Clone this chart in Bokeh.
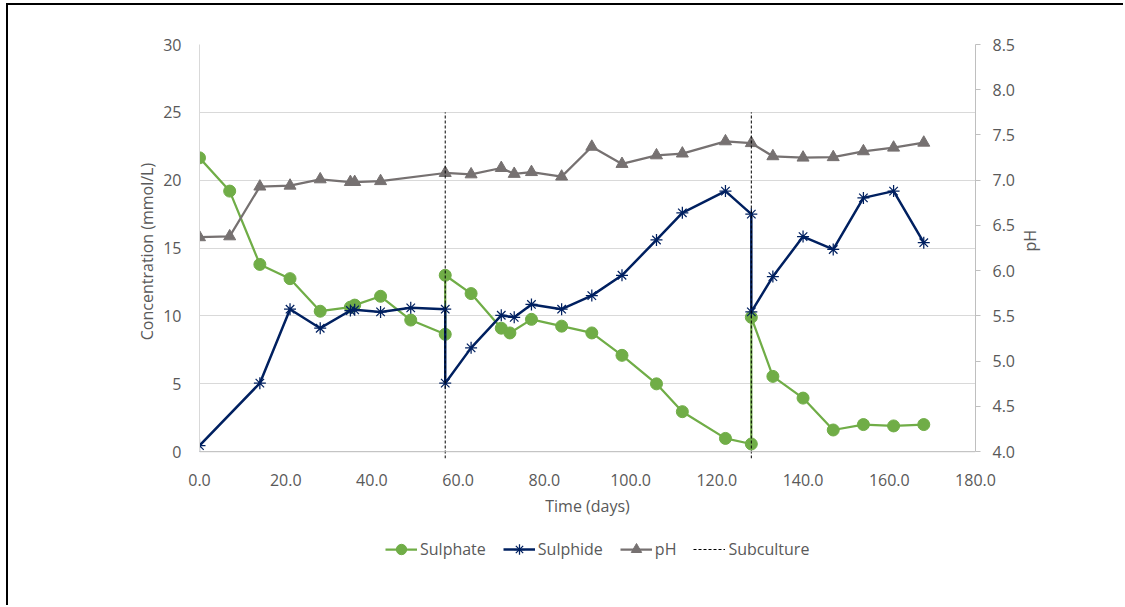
import math

from bokeh.plotting import figure
from bokeh.layouts import column
from bokeh.models import (Range1d, LinearAxis, SingleIntervalTicker, NumeralTickFormatter,
                          Legend, LegendItem, Span)
from bokeh.embed import file_html
from bokeh.resources import INLINE

# ---- measurements -------------------------------------------------------
days_sulphate = [0, 7, 14, 21, 28, 35, 36, 42, 49, 57, 57, 63, 70, 72, 77, 84, 91, 98,
                 106, 112, 122, 128, 128, 133, 140, 147, 154, 161, 168]
sulphate = [21.65, 19.2, 13.8, 12.75, 10.35, 10.65, 10.8, 11.45, 9.7, 8.65, 13.0, 11.65,
            9.1, 8.75, 9.75, 9.25, 8.75, 7.1, 5.0, 2.95, 0.98, 0.57, 9.9, 5.55, 3.95,
            1.6, 2.0, 1.9, 2.0]

days_sulphide = [0, 14, 21, 28, 35, 36, 42, 49, 57, 57, 63, 70, 73, 77, 84, 91, 98,
                 106, 112, 122, 128, 128, 133, 140, 147, 154, 161, 168]
sulphide = [0.45, 5.05, 10.5, 9.1, 10.4, 10.45, 10.3, 10.6, 10.5, 5.05, 7.65, 10.05,
            9.9, 10.85, 10.5, 11.5, 13.0, 15.6, 17.6, 19.2, 17.5, 10.3, 12.9, 15.85,
            14.9, 18.7, 19.2, 15.4]

days_ph = [0, 7, 14, 21, 28, 35, 36, 42, 57, 63, 70, 73, 77, 84, 91, 98, 106, 112,
           122, 128, 133, 140, 147, 154, 161, 168]
ph = [6.37, 6.38, 6.93, 6.94, 7.01, 6.98, 6.98, 6.99, 7.08, 7.065, 7.135, 7.07, 7.09,
      7.04, 7.37, 7.18, 7.275, 7.295, 7.43, 7.41, 7.265, 7.25, 7.255, 7.32, 7.36, 7.415]

# subculture events and the concentration span of their marker lines
subculture_days = [57, 128]
subculture_low = -0.5
subculture_high = 25

# axis extents
time_max = 180
conc_max = 30
ph_min, ph_max = 4.0, 8.5

FONT = "Open Sans"
TEXT = "#595959"
GREEN = "#70AD47"
NAVY = "#002060"
GREY = "#767171"

# concentration axis gets a little room below zero; the pH axis is stretched
# by the same fraction so pH 4.0 still sits on concentration 0
conc_start = subculture_low
ph_start = ph_min + conc_start * (ph_max - ph_min) / conc_max

p = figure(width=1117, height=520,
           x_range=Range1d(0, time_max), y_range=Range1d(conc_start, conc_max),
           output_backend="svg", toolbar_location=None,
           min_border_left=191, min_border_right=150,
           min_border_top=39, min_border_bottom=67,
           background_fill_color="white", border_fill_color="white")
# thin black frame on the top and left of the chart area
p.margin = (3, 0, 0, 6)
p.styles = {"border-left": "2px solid #000000", "border-top": "2px solid #000000"}
p.outline_line_color = None
p.extra_y_ranges = {"ph": Range1d(ph_start, ph_max)}

# grid
p.xgrid.grid_line_color = None
p.ygrid.grid_line_color = "#D9D9D9"
p.ygrid.grid_line_width = 1
p.add_layout(Span(location=0, dimension="width", line_color="#BFBFBF", line_width=1))

# x axis
xa = p.xaxis[0]
xa.ticker = SingleIntervalTicker(interval=20, num_minor_ticks=0)
xa.formatter = NumeralTickFormatter(format="0.0")
xa.axis_label = "Time (days)"
xa.axis_line_color = None
xa.major_tick_line_color = None
xa.minor_tick_line_color = None
xa.major_label_standoff = 9
xa.axis_label_standoff = 6

# left axis
ya = p.yaxis[0]
ya.ticker = SingleIntervalTicker(interval=5, num_minor_ticks=0)
ya.axis_label = "Concentration (mmol/L)"
ya.bounds = (0, conc_max)
ya.axis_line_color = "#D9D9D9"
ya.major_tick_line_color = None
ya.minor_tick_line_color = None
ya.major_label_standoff = 12
ya.axis_label_standoff = 2

# right pH axis
ra = LinearAxis(y_range_name="ph", axis_label="pH",
                ticker=SingleIntervalTicker(interval=0.5, num_minor_ticks=0),
                formatter=NumeralTickFormatter(format="0.0"),
                bounds=(ph_min, ph_max))
ra.axis_line_color = "#BFBFBF"
ra.major_tick_line_color = "#BFBFBF"
ra.major_tick_in = 0
ra.major_tick_out = 5
ra.minor_tick_line_color = None
ra.major_label_standoff = 12
ra.axis_label_standoff = 12
ra.axis_label_orientation = math.pi / 2
p.add_layout(ra, "right")

for ax in (xa, ya, ra):
    ax.major_label_text_font = FONT
    ax.major_label_text_font_size = "16px"
    ax.major_label_text_color = TEXT
    ax.axis_label_text_font = FONT
    ax.axis_label_text_font_size = "16px"
    ax.axis_label_text_font_style = "normal"
    ax.axis_label_text_color = TEXT

# series
p.line(days_sulphate, sulphate, line_color=GREEN, line_width=2.25)
p.scatter(days_sulphate, sulphate, marker="circle", size=12,
          fill_color=GREEN, line_color=GREEN)

p.line(days_sulphide, sulphide, line_color=NAVY, line_width=2.5)
p.scatter(days_sulphide, sulphide, marker="asterisk", size=12,
          line_color=NAVY, line_width=1.25)

p.line(days_ph, ph, line_color=GREY, line_width=2.25, y_range_name="ph")
p.scatter(days_ph, ph, marker="triangle", size=12, fill_color=GREY,
          line_color=GREY, y_range_name="ph")

p.segment(x0=subculture_days, y0=[subculture_low] * len(subculture_days),
          x1=subculture_days, y1=[subculture_high] * len(subculture_days),
          line_color="black", line_width=1, line_dash="3 2")

# ---- legend strip under the chart ---------------------------------------
# The key renderers reuse the series data but the strip's ranges sit below
# every value, so only their legend swatches are seen.
lf = figure(width=1117, height=82, x_range=Range1d(0, time_max), y_range=Range1d(-3, -2),
            output_backend="svg", toolbar_location=None,
            x_axis_type=None, y_axis_type=None,
            min_border=0, background_fill_color="white", border_fill_color="white")
lf.margin = (0, 0, 0, 6)
lf.styles = {"border-left": "2px solid #000000"}
lf.outline_line_color = None
lf.xgrid.grid_line_color = None
lf.ygrid.grid_line_color = None

k_sul_line = lf.line(days_sulphate, sulphate, line_color=GREEN, line_width=2.25)
k_sul_pts = lf.scatter(days_sulphate, sulphate, marker="circle", size=11,
                       fill_color=GREEN, line_color=GREEN)
k_sid_line = lf.line(days_sulphide, sulphide, line_color=NAVY, line_width=2.5)
k_sid_pts = lf.scatter(days_sulphide, sulphide, marker="asterisk", size=11,
                       line_color=NAVY, line_width=1.25)
k_ph_line = lf.line(days_ph, ph, line_color=GREY, line_width=2.25)
k_ph_pts = lf.scatter(days_ph, ph, marker="triangle", size=11, fill_color=GREY,
                      line_color=GREY)
k_sub = lf.segment(x0=subculture_days, y0=[subculture_low] * len(subculture_days),
                   x1=subculture_days, y1=[subculture_high] * len(subculture_days),
                   line_color="black", line_width=1, line_dash="3 2")

legend = Legend(items=[
    LegendItem(label="Sulphate", renderers=[k_sul_line, k_sul_pts]),
    LegendItem(label="Sulphide", renderers=[k_sid_line, k_sid_pts]),
    LegendItem(label="pH", renderers=[k_ph_line, k_ph_pts]),
    LegendItem(label="Subculture", renderers=[k_sub]),
], orientation="horizontal", location=(186, 43))
legend.label_text_font = FONT
legend.label_text_font_size = "16px"
legend.label_text_color = TEXT
legend.glyph_width = 32
legend.glyph_height = 26
legend.label_standoff = 3
legend.spacing = 17
legend.padding = 0
legend.margin = 0
legend.border_line_color = None
legend.background_fill_alpha = 0
lf.add_layout(legend, "center")

layout = column(p, lf, spacing=0)
open("out.html", "w").write(file_html(layout, INLINE))
